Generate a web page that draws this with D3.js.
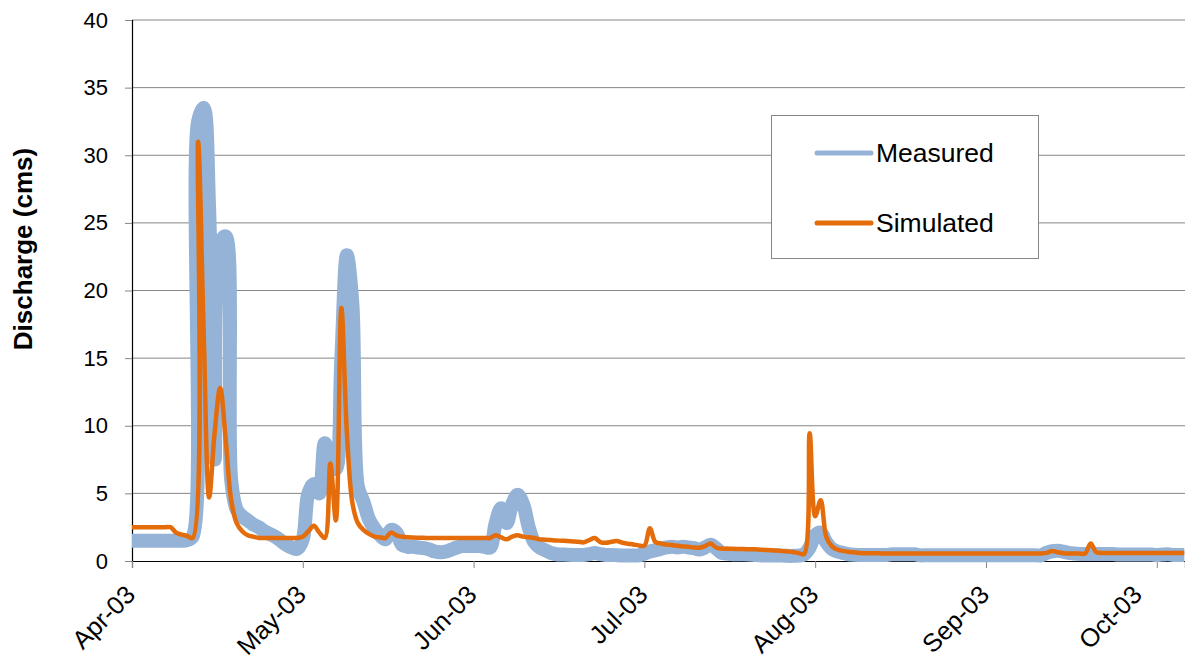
<!DOCTYPE html>
<html>
<head>
<meta charset="utf-8">
<script src="https://cdn.jsdelivr.net/npm/d3@7/dist/d3.min.js"></script>
<style>
  html, body { margin: 0; padding: 0; background: #fff; }
  svg { display: block; font-family: "Liberation Sans", Arial, sans-serif; }
</style>
</head>
<body>
<svg id="chart" width="1185" height="662"></svg>
<script>
// Daily discharge, 1 Apr 2003 onward (cms)
const startDate = new Date(2003, 3, 1);

const measured = [
  1.5, 1.5, 1.5, 1.5, 1.5, 1.5, 1.5, 1.5, 1.5, 1.5,
  1.55, 1.8, 32.5, 33.5, 26, 7.5, 23.5, 24, 6, 3.8,
  3.3, 3.0, 2.7, 2.5, 2.2, 2.0, 1.8, 1.5, 1.2, 1.0,
  0.9, 1.6, 5.0, 5.7, 5.0, 8.7, 7.5, 6.8, 15, 22.6,
  19, 5.5, 4.4, 3.1, 2.4, 1.9, 1.6, 2.3, 2.1, 1.2,
  1.05, 1.05, 1.0, 0.95, 0.85, 0.7, 0.65, 0.7, 0.85, 1.0,
  1.1, 1.1, 1.1, 1.1, 1.05, 1.0, 2.8, 3.9, 2.8, 4.2,
  4.9, 4.2, 2.5, 1.4, 1.0, 0.8, 0.6, 0.5, 0.48, 0.46,
  0.45, 0.45, 0.45, 0.5, 0.6, 0.5, 0.45, 0.45, 0.42, 0.4,
  0.4, 0.4, 0.42, 0.55, 0.7, 0.8, 0.9, 1.0, 1.05, 1.0,
  1.05, 1.0, 0.95, 0.85, 1.0, 1.2, 0.95, 0.6, 0.55, 0.5,
  0.5, 0.5, 0.48, 0.45, 0.42, 0.4, 0.4, 0.4, 0.4, 0.38,
  0.38, 0.4, 0.5, 1.0, 1.9, 2.1, 1.4, 0.9, 0.7, 0.6,
  0.5, 0.46, 0.45, 0.45, 0.45, 0.45, 0.45, 0.45, 0.5, 0.5,
  0.5, 0.5, 0.5, 0.42, 0.42, 0.42, 0.42, 0.42, 0.42, 0.42,
  0.42, 0.42, 0.42, 0.42, 0.42, 0.42, 0.42, 0.42, 0.42, 0.42,
  0.42, 0.42, 0.42, 0.42, 0.42, 0.42, 0.6, 0.72, 0.75, 0.7,
  0.6, 0.55, 0.52, 0.52, 0.52, 0.52, 0.52, 0.52, 0.52, 0.48,
  0.48, 0.48, 0.48, 0.48, 0.48, 0.48, 0.45, 0.48, 0.5, 0.45,
  0.45, 0.45
];

const simulated = [
  2.5, 2.5, 2.5, 2.5, 2.5, 2.5, 2.5, 2.5, 2.1, 1.95,
  1.85, 1.7, 31, 17, 4.7, 9.5, 12.8, 9, 4.5, 2.8,
  2.2, 1.9, 1.8, 1.7, 1.7, 1.7, 1.7, 1.7, 1.7, 1.7,
  1.7, 1.8, 2.2, 2.6, 2.1, 1.7, 7.2, 3.0, 18.7, 9.5,
  4.3, 2.8, 2.3, 2.0, 1.8, 1.75, 1.7, 2.1, 1.9, 1.8,
  1.75, 1.73, 1.72, 1.71, 1.7, 1.7, 1.7, 1.7, 1.7, 1.7,
  1.7, 1.7, 1.7, 1.7, 1.7, 1.7, 1.9, 1.75, 1.6, 1.8,
  1.9, 1.8, 1.75, 1.7, 1.6, 1.58, 1.55, 1.52, 1.5, 1.48,
  1.45, 1.42, 1.38, 1.55, 1.7, 1.4, 1.35, 1.42, 1.48, 1.35,
  1.28, 1.22, 1.15, 1.13, 2.42, 1.4, 1.3, 1.22, 1.18, 1.12,
  1.08, 1.05, 1.0, 0.98, 1.1, 1.3, 1.0, 0.92, 0.9, 0.9,
  0.89, 0.88, 0.87, 0.86, 0.84, 0.82, 0.8, 0.77, 0.73, 0.7,
  0.66, 0.58, 0.52, 9.45, 3.3, 4.5, 1.8, 1.1, 0.85, 0.75,
  0.68, 0.64, 0.6, 0.57, 0.57, 0.57, 0.56, 0.56, 0.56, 0.56,
  0.56, 0.56, 0.56, 0.56, 0.56, 0.56, 0.56, 0.56, 0.56, 0.56,
  0.56, 0.56, 0.56, 0.56, 0.56, 0.56, 0.56, 0.56, 0.56, 0.56,
  0.56, 0.56, 0.56, 0.56, 0.56, 0.56, 0.6, 0.74, 0.65, 0.58,
  0.55, 0.55, 0.55, 0.55, 1.3, 0.65, 0.6, 0.6, 0.6, 0.6,
  0.6, 0.6, 0.6, 0.6, 0.6, 0.6, 0.6, 0.6, 0.6, 0.6,
  0.6, 0.6
];

// Category axis: one label every 31 days
const tickEvery = 31;
const tickLabels = ["Apr-03", "May-03", "Jun-03", "Jul-03", "Aug-03", "Sep-03", "Oct-03"];
const yTicks = [0, 5, 10, 15, 20, 25, 30, 35, 40];
const seriesNames = ["Measured", "Simulated"];

const dates = measured.map((_, i) => d3.timeDay.offset(startDate, i));

const svg = d3.select("#chart");
const plot = { left: 132, right: 1185, top: 20, bottom: 561 };

const x = d3.scaleTime()
  .domain([startDate, d3.timeHour.offset(startDate, Math.round(191.14 * 24))])
  .range([plot.left, plot.right]);

const y = d3.scaleLinear().domain([0, 40]).range([plot.bottom, plot.top]);

// Horizontal gridlines
svg.append("g")
  .selectAll("line")
  .data(yTicks.filter(v => v > 0))
  .join("line")
  .attr("x1", plot.left).attr("x2", plot.right)
  .attr("y1", d => y(d)).attr("y2", d => y(d))
  .attr("stroke", "#868686").attr("stroke-width", 1);

// Y axis
const yAxis = svg.append("g")
  .attr("transform", `translate(${plot.left},0)`)
  .call(d3.axisLeft(y).tickValues(yTicks).tickSize(7).tickPadding(17));
yAxis.select(".domain").attr("stroke", "#000").attr("stroke-width", 1.2);
yAxis.selectAll(".tick line").attr("stroke", "#868686");
yAxis.selectAll(".tick text")
  .attr("font-size", 22).attr("fill", "#000")
  .attr("font-family", "Liberation Sans, Arial, sans-serif");

// X axis; the last label is pulled inward so it stays inside the chart area
const tickDates = tickLabels.map((_, i) => dates[i * tickEvery]);
const xAxis = svg.append("g")
  .attr("transform", `translate(0,${plot.bottom})`)
  .call(d3.axisBottom(x).tickValues(tickDates).tickSize(7)
    .tickFormat((d, i) => tickLabels[i]));
xAxis.select(".domain").attr("stroke", "#000").attr("stroke-width", 1.2);
xAxis.selectAll(".tick line").attr("stroke", "#868686");
xAxis.selectAll(".tick text")
  .attr("font-size", 25.5).attr("fill", "#000")
  .attr("font-family", "Liberation Sans, Arial, sans-serif")
  .attr("text-anchor", "end")
  .attr("dy", "0.35em")
  .attr("transform", (d, i) => `translate(${i === tickLabels.length - 1 ? -20 : -2},29) rotate(-45)`)
  .attr("y", 0).attr("x", 0);

// Y axis title
svg.append("text")
  .attr("transform", `translate(32,249) rotate(-90)`)
  .attr("text-anchor", "middle")
  .attr("font-size", 26).attr("font-weight", "bold")
  .text("Discharge (cms)");

// Series lines (smoothed)
const line = values => d3.line()
  .curve(d3.curveCatmullRom.alpha(0.5))
  .x((d, i) => x(dates[i]))
  .y(d => y(d))(values);

svg.append("path")
  .attr("d", line(measured))
  .attr("fill", "none")
  .attr("stroke", "#95B3D7")
  .attr("stroke-width", 14)
  .attr("stroke-linejoin", "round");

svg.append("path")
  .attr("d", line(simulated))
  .attr("fill", "none")
  .attr("stroke", "#E46C0A")
  .attr("stroke-width", 4.5)
  .attr("stroke-linejoin", "round");

// Legend
const legend = svg.append("g");
legend.append("rect")
  .attr("x", 771.5).attr("y", 115.5).attr("width", 267).attr("height", 143)
  .attr("fill", "#fff").attr("stroke", "#868686").attr("stroke-width", 1);
const legendColors = ["#95B3D7", "#E46C0A"];
seriesNames.forEach((name, i) => {
  const ly = 153 + i * 70;
  legend.append("line")
    .attr("x1", 817).attr("x2", 871).attr("y1", ly).attr("y2", ly)
    .attr("stroke", legendColors[i]).attr("stroke-width", 5)
    .attr("stroke-linecap", "round");
  legend.append("text")
    .attr("x", 876).attr("y", ly).attr("dy", "0.35em")
    .attr("font-size", 26.5).attr("fill", "#000")
    .text(name);
});
</script>
</body>
</html>
